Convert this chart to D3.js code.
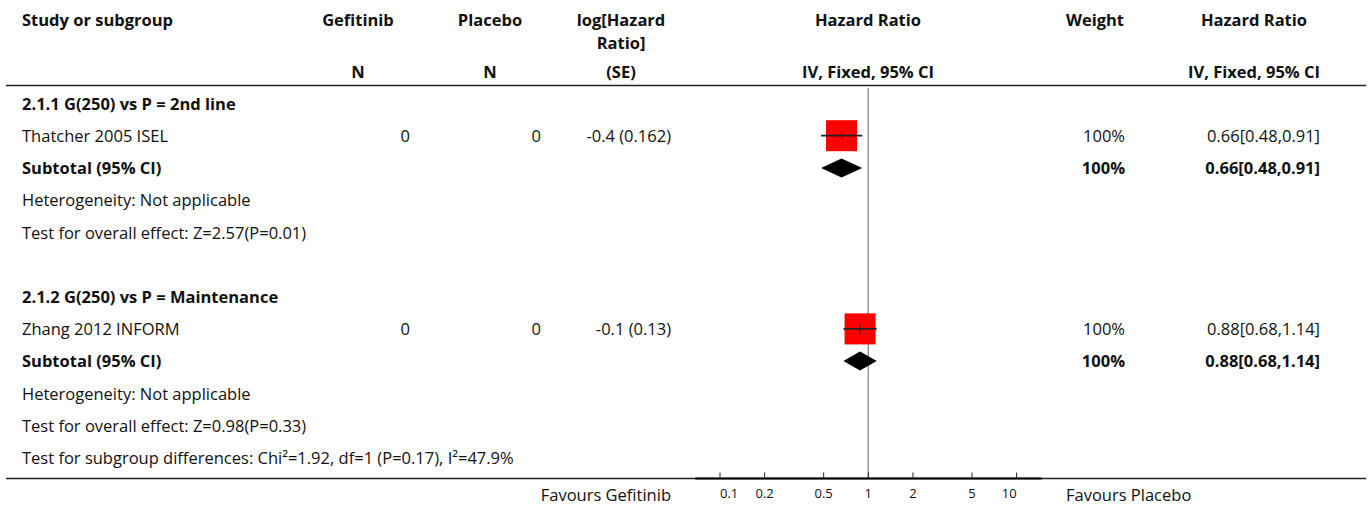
<!DOCTYPE html>
<html>
<head>
<meta charset="utf-8">
<script src="https://cdn.jsdelivr.net/npm/d3@7/dist/d3.min.js"></script>
<style>
  html, body { margin: 0; padding: 0; background: #fff; }
  svg { display: block; }
  text { font-family: "Open Sans", Lato, sans-serif; fill: #111; }
</style>
</head>
<body>
<svg id="chart" width="1370" height="507"></svg>
<script>
// Forest plot: Gefitinib vs Placebo, hazard ratios by subgroup
const groupTitles = ["2.1.1 G(250) vs P = 2nd line", "2.1.2 G(250) vs P = Maintenance"];
const studyNames = ["Thatcher 2005 ISEL", "Zhang 2012 INFORM"];
const gefitinibN = [0, 0];
const placeboN = [0, 0];
const logHR = [-0.4, -0.1];
const seLogHR = [0.162, 0.13];
const studyHR = [0.66, 0.88];
const studyLower = [0.48, 0.68];
const studyUpper = [0.91, 1.14];
const studyWeight = [100, 100];
const subtotalHR = [0.66, 0.88];
const subtotalLower = [0.48, 0.68];
const subtotalUpper = [0.91, 1.14];
const subtotalWeight = [100, 100];
const heterogeneity = ["Not applicable", "Not applicable"];
const overallEffect = ["Z=2.57(P=0.01)", "Z=0.98(P=0.33)"];
const subgroupTest = "Chi\u00B2=1.92, df=1 (P=0.17), I\u00B2=47.9%";
const tickValues = [0.1, 0.2, 0.5, 1, 2, 5, 10];
const favoursLeft = "Favours Gefitinib";
const favoursRight = "Favours Placebo";

const svg = d3.select("#chart");
const W = 1370;
const fs = 16.5;

// log scale for the hazard-ratio panel
const x = d3.scaleLog().domain([0.1, 10]).range([720, 1016.6]);
const axisLimits = [0.068, 14.8];

// row layout
const rowTop = 104, rowStep = 32.2;
const rowY = i => rowTop + i * rowStep;

// column positions
const col = {
  study: 22,
  gef: 358, gefR: 410,
  plc: 490, plcR: 541,
  se: 621, seR: 671,
  hr: 868,
  wt: 1095, wtR: 1125,
  ci: 1254, ciR: 1320
};

function txt(xp, yp, s, opts = {}) {
  return svg.append("text")
    .attr("x", xp).attr("y", yp).attr("dy", "0.35em")
    .attr("font-size", opts.size || fs)
    .attr("font-weight", opts.bold ? "bold" : "normal")
    .attr("text-anchor", opts.anchor || "start")
    .text(s);
}

// header
txt(col.study, 20, "Study or subgroup", {bold: true});
txt(col.gef, 20, "Gefitinib", {bold: true, anchor: "middle"});
txt(col.plc, 20, "Placebo", {bold: true, anchor: "middle"});
txt(col.se, 20, "log[Hazard", {bold: true, anchor: "middle"});
txt(col.se, 43, "Ratio]", {bold: true, anchor: "middle"});
txt(col.hr, 20, "Hazard Ratio", {bold: true, anchor: "middle"});
txt(col.wt, 20, "Weight", {bold: true, anchor: "middle"});
txt(col.ci, 20, "Hazard Ratio", {bold: true, anchor: "middle"});
txt(col.gef, 72, "N", {bold: true, anchor: "middle"});
txt(col.plc, 72, "N", {bold: true, anchor: "middle"});
txt(col.se, 72, "(SE)", {bold: true, anchor: "middle"});
txt(col.hr, 72, "IV, Fixed, 95% CI", {bold: true, anchor: "middle"});
txt(col.ci, 72, "IV, Fixed, 95% CI", {bold: true, anchor: "middle"});

svg.append("line")
  .attr("x1", 6).attr("x2", W - 4).attr("y1", 85.5).attr("y2", 85.5)
  .attr("stroke", "#222").attr("stroke-width", 1.4);

// null line at HR = 1
svg.append("line")
  .attr("x1", x(1)).attr("x2", x(1)).attr("y1", 88).attr("y2", 478)
  .attr("stroke", "#888").attr("stroke-width", 1.3);

const sizeScale = d3.scaleSqrt().domain([0, 100]).range([0, 31]);
const fmt2 = d3.format(".2f");
const ciText = (h, l, u) => `${fmt2(h)}[${fmt2(l)},${fmt2(u)}]`;

groupTitles.forEach((g, gi) => {
  const base = gi * 6;
  // subgroup title
  txt(col.study, rowY(base), g, {bold: true});

  // study row
  const yS = rowY(base + 1);
  txt(col.study, yS, studyNames[gi]);
  txt(col.gefR, yS, String(gefitinibN[gi]), {anchor: "end"});
  txt(col.plcR, yS, String(placeboN[gi]), {anchor: "end"});
  txt(col.seR, yS, `${logHR[gi]} (${seLogHR[gi]})`, {anchor: "end"});
  txt(col.wtR, yS, `${studyWeight[gi]}%`, {anchor: "end"});
  txt(col.ciR, yS, ciText(studyHR[gi], studyLower[gi], studyUpper[gi]), {anchor: "end"});

  const sz = sizeScale(studyWeight[gi]);
  const ySq = yS - 0.5;
  svg.append("rect")
    .attr("x", x(studyHR[gi]) - sz / 2).attr("y", ySq - sz / 2)
    .attr("width", sz).attr("height", sz)
    .attr("fill", "#ff0000");
  svg.append("line")
    .attr("x1", x(studyLower[gi])).attr("x2", x(studyUpper[gi]))
    .attr("y1", ySq).attr("y2", ySq)
    .attr("stroke", "#222").attr("stroke-width", 1.8);
  svg.append("line")
    .attr("x1", x(studyHR[gi])).attr("x2", x(studyHR[gi]))
    .attr("y1", ySq - 4.5).attr("y2", ySq + 4.5)
    .attr("stroke", "#222").attr("stroke-width", 1.2);

  // subtotal row
  const yT = rowY(base + 2);
  txt(col.study, yT, "Subtotal (95% CI)", {bold: true});
  txt(col.wtR, yT, `${subtotalWeight[gi]}%`, {anchor: "end", bold: true});
  txt(col.ciR, yT, ciText(subtotalHR[gi], subtotalLower[gi], subtotalUpper[gi]), {anchor: "end", bold: true});
  const yD = yT - 0.5, h = 9.5;
  svg.append("path")
    .attr("d", `M${x(subtotalLower[gi])},${yD} L${x(subtotalHR[gi])},${yD - h} L${x(subtotalUpper[gi])},${yD} L${x(subtotalHR[gi])},${yD + h} Z`)
    .attr("fill", "#000");

  txt(col.study, rowY(base + 3), `Heterogeneity: ${heterogeneity[gi]}`);
  txt(col.study, rowY(base + 4), `Test for overall effect: ${overallEffect[gi]}`);
});

txt(col.study, rowY(11), `Test for subgroup differences: ${subgroupTest}`);

// bottom rule and axis
const axisY = 478.5;
svg.append("line")
  .attr("x1", 6).attr("x2", W - 4).attr("y1", axisY).attr("y2", axisY)
  .attr("stroke", "#222").attr("stroke-width", 1.4);
svg.append("line")
  .attr("x1", x(axisLimits[0])).attr("x2", x(axisLimits[1])).attr("y1", axisY).attr("y2", axisY)
  .attr("stroke", "#000").attr("stroke-width", 2.2);

const ticks = svg.append("g");
tickValues.forEach((t, i) => {
  ticks.append("line")
    .attr("x1", x(t)).attr("x2", x(t)).attr("y1", axisY).attr("y2", axisY - 6)
    .attr("stroke", "#222").attr("stroke-width", 1);
  const anchor = i === 0 ? "start" : (i === tickValues.length - 1 ? "end" : "middle");
  ticks.append("text")
    .attr("x", x(t)).attr("y", 493).attr("dy", "0.35em")
    .attr("font-size", 13).attr("text-anchor", anchor)
    .text(d3.format("~g")(t));
});

txt(671, 495, favoursLeft, {anchor: "end"});
txt(1066, 495, favoursRight);
</script>
</body>
</html>
